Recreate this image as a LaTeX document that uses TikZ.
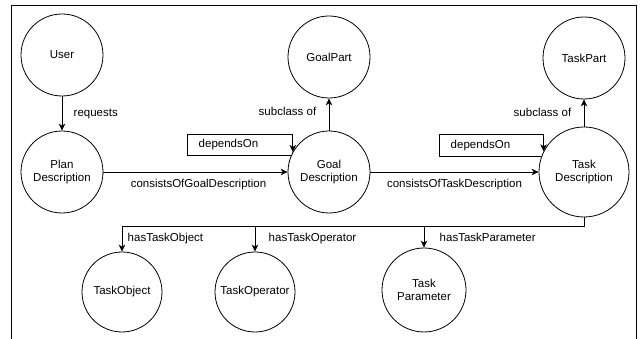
\documentclass[tikz,border=0pt]{standalone}
\usepackage{fontspec}
\setmainfont{Liberation Sans}
\usetikzlibrary{arrows.meta,positioning}

\begin{document}
\begin{tikzpicture}
[x=1pt, y=-1pt, line width=0.8pt, font=\fontsize{11.5}{13.5}\selectfont,
concept/.style={draw, circle, minimum size=82pt, inner sep=0pt, align=center},
rel/.style={-{Stealth[length=7pt,width=6.5pt,inset=2pt]}},
]

\useasboundingbox (0,0) rectangle (641,339);
\draw (11,339) -- (11,5) -- (636,5) -- (636,339);

\node[concept] (user) at(62,55) {User};
\node[concept] (plan) at(62,172) {Plan\\Description};
\node[concept] (goalpart) at(329,57) {GoalPart};
\node[concept] (goal) at(329,172) {Goal\\Description};
\node[concept] (taskpart) at(584,58) {TaskPart};
\node[concept, minimum size=90pt] (task) at(584,172) {Task\\Description};
\node[concept, minimum size=80pt] (taskobject) at(122,292) {TaskObject};
\node[concept, minimum size=80pt] (taskoperator) at(255,292) {TaskOperator};
\node[concept, minimum size=84pt] (taskparameter) at(424,290) {Task\\Parameter};

\draw[rel] (user) -- node[right=8pt] {requests} (plan);
\draw[rel] (plan) -- node[below=3pt, xshift=3pt] {consistsOfGoalDescription} (goal);
\draw[rel] (goal) -- node[below=3pt] {consistsOfTaskDescription} (task);
\draw[rel] (goal) -- node[left=9pt, yshift=3pt] {subclass of} (goalpart);
\draw[rel] (task) -- node[left=9pt, yshift=1pt] {subclass of} (taskpart);

\draw[rel] (goal.157) -| node[pos=0.75, right=8pt] {dependsOn} (187,134) -| (goal.151);
\draw[rel] (task.160) -| node[pos=0.75, right=8pt] {dependsOn} (439,134) -| (task.153);

\draw[rel] (task.south) -- ++(0,9) -| node[pos=0.75, right=2pt] {hasTaskObject} (taskobject.north);
\draw[rel] (task.south) -- ++(0,9) -| node[pos=0.75, right=10pt] {hasTaskOperator} (taskoperator.north);
\draw[rel] (task.south) -- ++(0,9) -| node[pos=0.75, right=12pt] {hasTaskParameter} (taskparameter.north);
\end{tikzpicture}
\end{document}
